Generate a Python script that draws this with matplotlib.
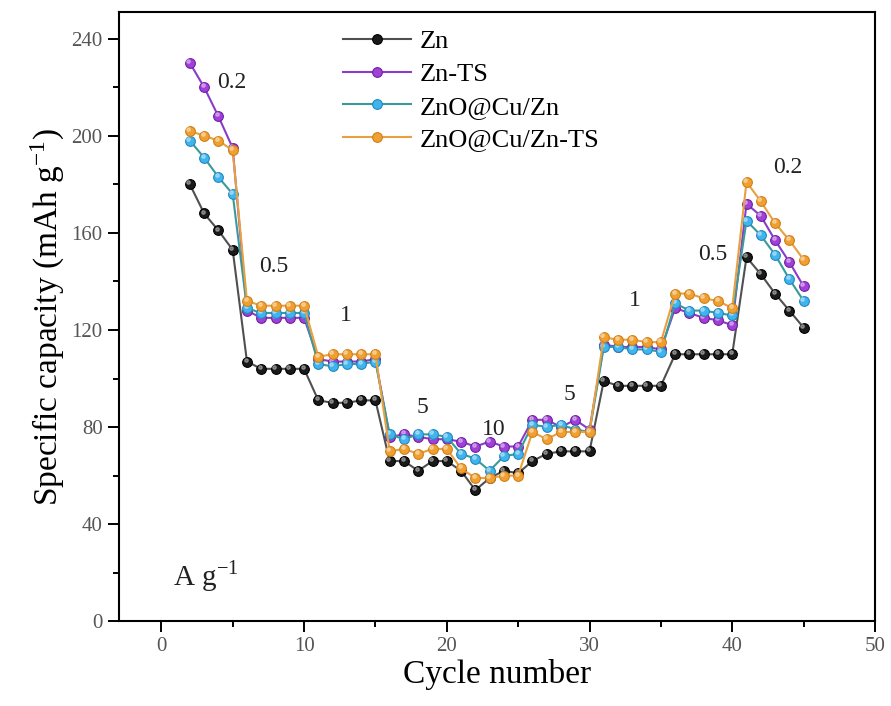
import numpy as np
import matplotlib
matplotlib.use('Agg')
import matplotlib.pyplot as plt
from matplotlib.ticker import MultipleLocator

plt.rcParams['font.family'] = ['Liberation Serif', 'DejaVu Serif']
plt.rcParams['mathtext.fontset'] = 'stix'

# Циклы 2..45, по 5 циклов на каждую плотность тока (первая ступень - 4 цикла)
cycles = np.arange(2, 46)

zn = [180, 168, 161, 153,
      107, 104, 104, 104, 104,
      91, 90, 90, 91, 91,
      66, 66, 62, 66, 66,
      62, 54, 59, 62, 61,
      66, 69, 70, 70, 70,
      99, 97, 97, 97, 97,
      110, 110, 110, 110, 110,
      150, 143, 135, 128, 121]

zn_ts = [230, 220, 208, 195,
         128, 125, 125, 125, 125,
         108, 107, 107, 107, 108,
         76, 77, 76, 75, 75,
         74, 72, 74, 72, 72,
         83, 83, 80, 83, 79,
         114, 113, 113, 113, 112,
         129, 127, 125, 124, 122,
         172, 167, 157, 148, 138]

zno_cu = [198, 191, 183, 176,
          129, 127, 127, 127, 127,
          106, 105, 106, 106, 107,
          77, 75, 77, 77, 76,
          69, 67, 62, 68, 69,
          81, 80, 81, 79, 78,
          113, 113, 112, 112, 111,
          131, 128, 128, 127, 126,
          165, 159, 151, 141, 132]

zno_cu_ts = [202, 200, 198, 194,
             132, 130, 130, 130, 130,
             109, 110, 110, 110, 110,
             70, 71, 69, 71, 71,
             63, 59, 59, 60, 60,
             78, 75, 78, 78, 78,
             117, 116, 116, 115, 115,
             135, 135, 133, 132, 129,
             181, 173, 164, 157, 149]

labels = ['Zn', 'Zn-TS', 'ZnO@Cu/Zn', 'ZnO@Cu/Zn-TS']
line_colors = ['#505050', '#8a3cc8', '#3a9a9a', '#e8a040']
face_colors = ['#1a1a1a', '#a040d8', '#40b4ec', '#f0a030']
edge_colors = ['#000000', '#7020a0', '#2088c0', '#d08018']

# Подписи плотности тока (A g^-1): текст, x, y
rate_text = ['0.2', '0.5', '1', '5', '10', '5', '1', '0.5', '0.2']
rate_x = [4.9, 7.9, 12.9, 18.3, 23.3, 28.6, 33.2, 38.6, 43.9]
rate_y = [222, 146, 126, 88, 79, 93.5, 132, 151, 187]

fig = plt.figure(figsize=(8.91, 7.06), dpi=100)
ax = fig.add_axes([0.133, 0.12, 0.849, 0.863])

for data, lab, lc, fc, ec in zip([zn, zn_ts, zno_cu, zno_cu_ts], labels,
                                 line_colors, face_colors, edge_colors):
    ax.plot(cycles, data, '-o', color=lc, lw=1.5, ms=7,
            mfc=fc, mec=ec, mew=0.8, label=lab)
    # блик на шариках
    ax.plot(cycles - 0.1, np.array(data) + 0.8, 'o', ls='none', ms=2.5,
            color='white', alpha=0.35)

for t, x, y in zip(rate_text, rate_x, rate_y):
    ax.text(x, y, t, fontsize=17, ha='center', va='center', color='#222222')

ax.text(0.8, 18, r'A g$^{\mathregular{-1}}$', fontsize=21, ha='left',
        va='center', color='#222222')

ax.set_xlim(-3, 50)
ax.set_ylim(0, 251)
ax.xaxis.set_major_locator(MultipleLocator(10))
ax.xaxis.set_minor_locator(MultipleLocator(5))
ax.yaxis.set_major_locator(MultipleLocator(40))
ax.yaxis.set_minor_locator(MultipleLocator(20))
ax.tick_params(which='both', direction='out', top=False, right=False,
               width=1.4, labelsize=15, labelcolor='#555555')
ax.tick_params(which='major', length=8)
ax.tick_params(which='minor', length=4)
for s in ax.spines.values():
    s.set_linewidth(1.5)

ax.set_xlabel('Cycle number', fontsize=24, labelpad=2)
ax.set_ylabel(r'Specific capacity (mAh g$^{\mathregular{-1}}$)', fontsize=24,
              labelpad=4)

ax.legend(loc='upper left', bbox_to_anchor=(0.265, 1.01), frameon=False,
          fontsize=19, handlelength=2.6, labelspacing=0.35, handletextpad=0.3)

plt.savefig('out.png', dpi=100)
